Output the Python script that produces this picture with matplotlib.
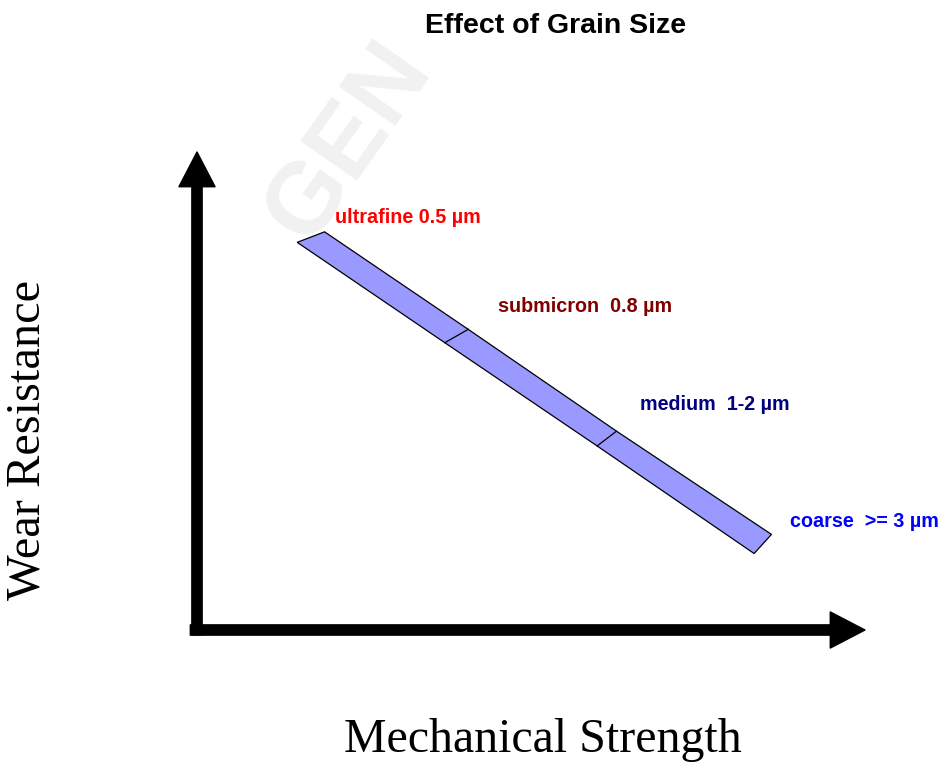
import matplotlib
matplotlib.use("Agg")
from matplotlib import pyplot as plt
from matplotlib.patches import Polygon

# band outline, in axis units (strength 0-10, resistance 0-10)
# the four points on each edge are: start, boundary 1, boundary 2, end
top_x = [1.91, 4.06, 6.28, 8.60]
top_y = [8.33, 6.29, 4.16, 2.00]
bot_x = [1.50, 3.71, 5.99, 8.34]
bot_y = [8.11, 6.01, 3.85, 1.60]

labels = ["ultrafine 0.5 µm", "submicron  0.8 µm", "medium  1-2 µm", "coarse  >= 3 µm"]
label_colors = ["#FF0000", "#800000", "#000080", "#0000FF"]
label_x = [2.06, 4.50, 6.63, 8.88]
label_y = [8.64, 6.76, 4.71, 2.28]

fig = plt.figure(figsize=(9.42, 7.65), dpi=100)
ax = fig.add_axes([197/942, 135/765, 668/942, 478/765])
ax.set_xlim(0, 10)
ax.set_ylim(0, 10)
ax.axis("off")

# faint watermark
fig.text(0.37, 0.815, "GEN", fontsize=72, fontweight="bold", color="#f1f1f1",
         rotation=55, ha="center", va="center", family="Liberation Sans", zorder=0)

# axis arrows
arr = dict(arrowstyle="simple,head_length=1.25,head_width=1.3,tail_width=0.37",
           fc="black", ec="black", shrinkA=0, shrinkB=0, mutation_scale=20)
ax.annotate("", xy=(0, 10), xytext=(0, -0.1), arrowprops=arr, annotation_clip=False)
ax.annotate("", xy=(10, 0), xytext=(-0.1, 0), arrowprops=arr, annotation_clip=False)

# band
pts = list(zip(top_x, top_y)) + list(zip(bot_x, bot_y))[::-1]
ax.add_patch(Polygon(pts, closed=True, fc="#9999FF", ec="black", lw=0.9, zorder=3))
for i in (1, 2):
    ax.plot([top_x[i], bot_x[i]], [top_y[i], bot_y[i]], color="black", lw=0.9, zorder=4)

for t, c, x, y in zip(labels, label_colors, label_x, label_y):
    ax.text(x, y, t, color=c, fontsize=14.2, fontweight="bold", family="Liberation Sans",
            ha="left", va="center", clip_on=False)

fig.text(556/942, 1 - 26/765, "Effect of Grain Size", fontsize=20.5, fontweight="bold",
         family="Liberation Sans", ha="center", va="center")
fig.text(28/942, 1 - 440/765, "Wear Resistance", fontsize=34.8, family="Liberation Serif",
         rotation=90, ha="center", va="center")
fig.text(543/942, 1 - 740/765, "Mechanical Strength", fontsize=34.5, family="Liberation Serif",
         ha="center", va="center")

fig.savefig("out.png", dpi=100)
